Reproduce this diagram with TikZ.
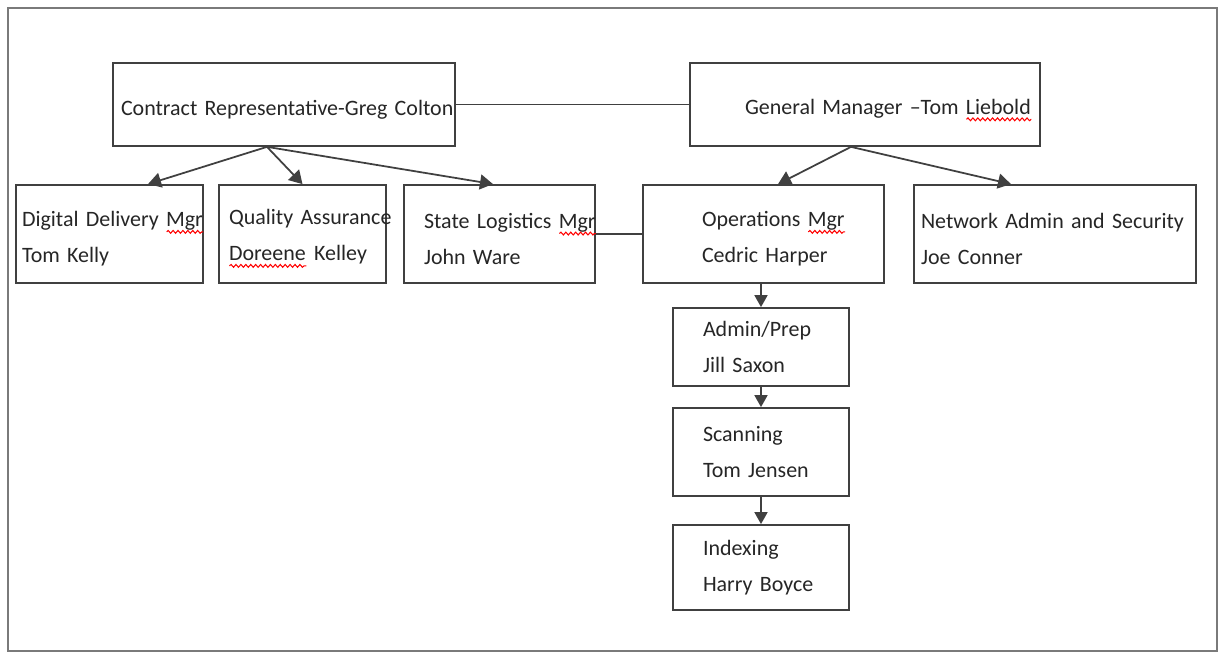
\documentclass[tikz,border=0pt]{standalone}
\usepackage{fontspec}
\setmainfont{Carlito}
\usetikzlibrary{arrows.meta, positioning, decorations.pathmorphing}

\definecolor{linegray}{HTML}{404040}
\definecolor{framegray}{HTML}{7A7A7A}

% red wavy spell-check underline
\newsavebox{\wavebox}
\newcommand{\spellmark}[1]{\sbox{\wavebox}{#1}\leavevmode\rlap{\usebox{\wavebox}}\tikz[baseline=0pt]\draw[red, line width=0.6pt, decorate, decoration={snake, amplitude=0.8pt, segment length=2.8pt}] (0pt,-3pt) -- (\the\wd\wavebox,-3pt);}

\begin{document}
\begin{tikzpicture}[
    font=\fontsize{12.5}{20.4}\selectfont,
    box/.style={draw=linegray, line width=1pt, inner sep=0pt, align=left, text=black!85},
    drop/.style={execute at begin node={\rule{0pt}{#1}}},
    rowbox/.style={box, drop=14pt, minimum height=1.96cm},
    colbox/.style={box, minimum width=3.52cm, text width=2.32cm},
    arr/.style={-{Triangle[length=2.6mm, width=3mm]}, line width=1pt, draw=linegray},
    link/.style={line width=1pt, draw=linegray},
]
\useasboundingbox (0,0) rectangle (24.42,13.06);
\draw[framegray, line width=1pt] (0.16,0.04) rectangle (24.34,12.90);

% ============ top level ============
\node[box, drop=15pt, minimum width=6.84cm, minimum height=1.66cm, text width=6.52cm] (crep) at (5.68, 10.97) {\mbox{Contract Representative-Greg Colton}};
\node[box, drop=15pt, minimum width=7.00cm, minimum height=1.66cm, text width=4.80cm] (gm) at (17.30, 10.97) {\mbox{General Manager --Tom \spellmark{Liebold}}};
\draw[link] (crep) -- (gm);

% ============ second row ============
\node[rowbox, minimum width=3.74cm, text width=3.50cm] (ddm) at (2.19, 8.38) {\mbox{Digital Delivery \spellmark{Mgr}}\\Tom Kelly};
\node[rowbox, minimum width=3.34cm, text width=2.94cm] (qa) at (6.05, 8.38) {\mbox{Quality Assurance}\\\mbox{\spellmark{Doreene} Kelley}};
\node[rowbox, minimum width=3.82cm, text width=3.02cm] (slm) at (9.99, 8.38) {\mbox{State Logistics \spellmark{Mgr}}\\John Ware};
\node[rowbox, minimum width=4.82cm, text width=2.46cm] (ops) at (15.27, 8.38) {\mbox{Operations \spellmark{Mgr}}\\\mbox{Cedric Harper}};
\node[rowbox, minimum width=5.64cm, text width=5.36cm] (net) at (21.10, 8.38) {\mbox{Network Admin and Security}\\Joe Conner};
\draw[link] (slm) -- (ops);

\coordinate (crfoot) at ([xshift=-0.34cm]crep.south);
\coordinate (gmfoot) at ([xshift=-0.28cm]gm.south);
\draw[arr] (crfoot) -- ([xshift=0.77cm]ddm.north);
\draw[arr] (crfoot) -- (qa.north);
\draw[arr] (crfoot) -- ([xshift=-0.13cm]slm.north);
\draw[arr] (gmfoot) -- ([xshift=0.29cm]ops.north);
\draw[arr] (gmfoot) -- ([xshift=-0.88cm]net.north);

% ============ operations column ============
\node[colbox, minimum height=1.56cm] (prep) at (15.22, 6.12) {Admin/Prep\\Jill Saxon};
\node[colbox, minimum height=1.76cm] (scan) at (15.22, 4.02) {Scanning\\\mbox{Tom Jensen}};
\node[colbox, minimum height=1.70cm] (index) at (15.22, 1.71) {Indexing\\\mbox{Harry Boyce}};
\draw[arr, -{Triangle[length=2.4mm, width=2.6mm]}] (ops.south -| prep.north) -- (prep.north);
\draw[arr, -{Triangle[length=2.4mm, width=2.6mm]}] (prep) -- (scan);
\draw[arr, -{Triangle[length=2.4mm, width=2.6mm]}] (scan) -- (index);

\end{tikzpicture}
\end{document}
